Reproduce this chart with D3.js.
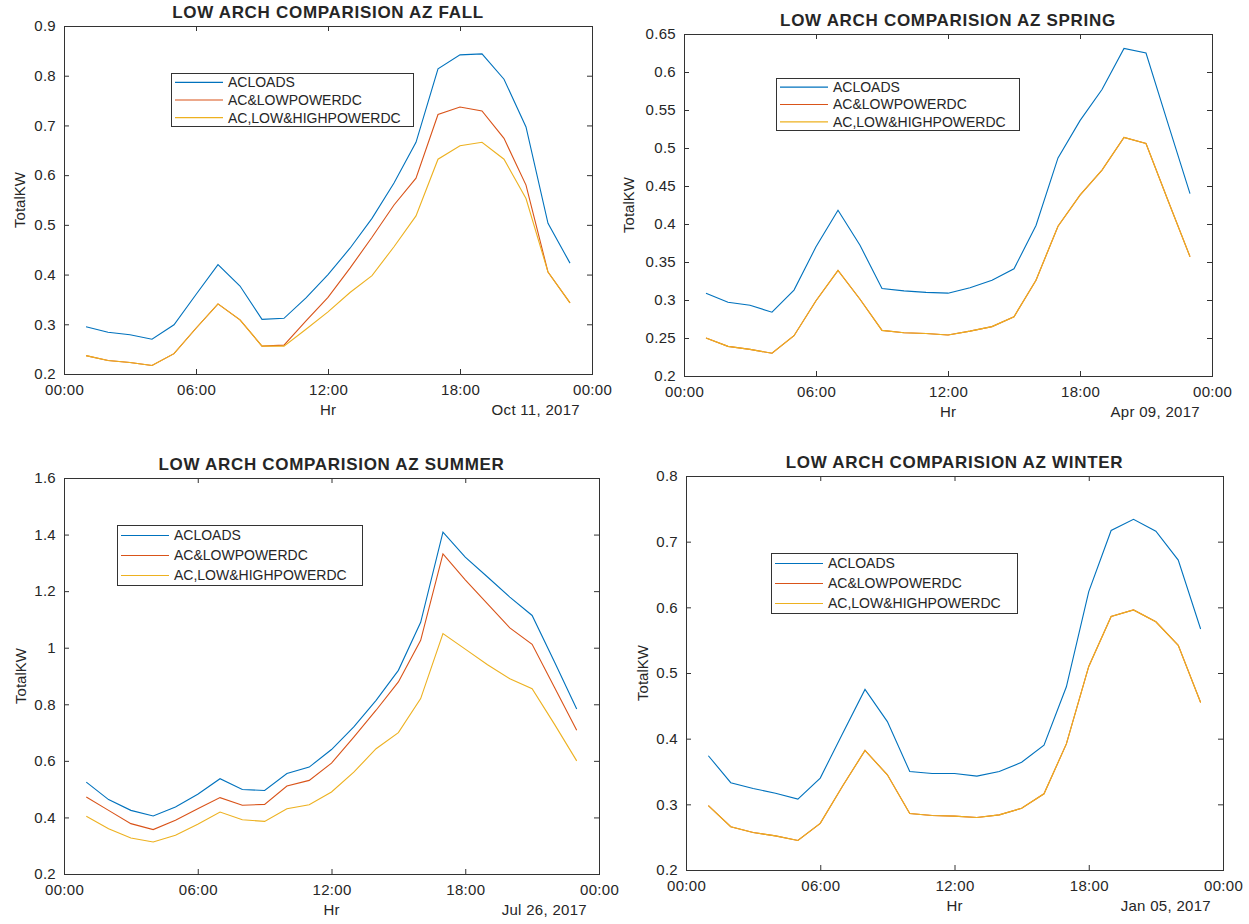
<!DOCTYPE html>
<html>
<head>
<meta charset="utf-8">
<script src="https://cdn.jsdelivr.net/npm/d3@7"></script>
<style>
  body { margin: 0; background: #fff; }
  text { font-family: "Liberation Sans", Arial, Helvetica, sans-serif; fill: #262626; }
</style>
</head>
<body>
<div id="chart"></div>
<script>
// hour of day of every sample (01:00 .. 23:00)
var hours = [1, 2, 3, 4, 5, 6, 7, 8, 9, 10, 11, 12, 13, 14, 15, 16, 17, 18, 19, 20, 21, 22, 23];

var seriesNames = ["ACLOADS", "AC&LOWPOWERDC", "AC,LOW&HIGHPOWERDC"];
var seriesColors = ["#0072bd", "#d95319", "#edb120"];

var xTickHours = [0, 6, 12, 18, 24];
var xTickLabels = ["00:00", "06:00", "12:00", "18:00", "00:00"];

// FALL - Oct 11, 2017
var fallAcLoads = [0.295, 0.284, 0.279, 0.270, 0.299, 0.360, 0.420, 0.377, 0.310, 0.312, 0.353, 0.400,
    0.453, 0.513, 0.584, 0.666, 0.814, 0.842, 0.844, 0.793, 0.697, 0.503, 0.423];
var fallAcLowDc = [0.237, 0.227, 0.223, 0.217, 0.241, 0.292, 0.341, 0.309, 0.256, 0.258, 0.307, 0.354,
    0.413, 0.475, 0.540, 0.594, 0.722, 0.737, 0.729, 0.674, 0.580, 0.405, 0.343];
var fallAcLowHighDc = [0.237, 0.227, 0.223, 0.217, 0.241, 0.292, 0.341, 0.309, 0.256, 0.256, 0.290, 0.325,
    0.364, 0.398, 0.456, 0.518, 0.632, 0.659, 0.666, 0.632, 0.553, 0.405, 0.343];
var fallTicks = [0.2, 0.3, 0.4, 0.5, 0.6, 0.7, 0.8, 0.9];

// SPRING - Apr 09, 2017
var springAcLoads = [0.309, 0.297, 0.293, 0.284, 0.313, 0.370, 0.418, 0.372, 0.315, 0.312, 0.310, 0.309,
    0.316, 0.326, 0.341, 0.398, 0.487, 0.536, 0.577, 0.631, 0.625, 0.532, 0.440];
var springAcLowDc = [0.250, 0.239, 0.235, 0.230, 0.253, 0.299, 0.339, 0.301, 0.260, 0.257, 0.256, 0.254,
    0.259, 0.265, 0.278, 0.326, 0.397, 0.438, 0.471, 0.514, 0.506, 0.431, 0.357];
var springAcLowHighDc = [0.250, 0.239, 0.235, 0.230, 0.253, 0.299, 0.339, 0.301, 0.260, 0.257, 0.256, 0.254,
    0.259, 0.265, 0.278, 0.326, 0.397, 0.438, 0.471, 0.514, 0.506, 0.431, 0.357];
var springTicks = [0.2, 0.25, 0.3, 0.35, 0.4, 0.45, 0.5, 0.55, 0.6, 0.65];

// SUMMER - Jul 26, 2017
var summerAcLoads = [0.525, 0.463, 0.425, 0.405, 0.437, 0.482, 0.537, 0.499, 0.495, 0.555, 0.578, 0.640,
    0.720, 0.814, 0.920, 1.090, 1.409, 1.320, 1.250, 1.179, 1.114, 0.950, 0.783];
var summerAcLowDc = [0.472, 0.425, 0.378, 0.357, 0.390, 0.431, 0.470, 0.443, 0.446, 0.511, 0.531, 0.592,
    0.684, 0.779, 0.879, 1.026, 1.332, 1.240, 1.155, 1.070, 1.012, 0.860, 0.708];
var summerAcLowHighDc = [0.404, 0.360, 0.327, 0.313, 0.337, 0.376, 0.419, 0.392, 0.386, 0.431, 0.445, 0.490,
    0.560, 0.643, 0.700, 0.820, 1.050, 0.995, 0.940, 0.890, 0.855, 0.730, 0.600];
var summerTicks = [0.2, 0.4, 0.6, 0.8, 1, 1.2, 1.4, 1.6];

// WINTER - Jan 05, 2017
var winterAcLoads = [0.374, 0.333, 0.324, 0.317, 0.308, 0.340, 0.408, 0.475, 0.426, 0.350, 0.347, 0.347,
    0.343, 0.350, 0.364, 0.390, 0.479, 0.624, 0.717, 0.734, 0.716, 0.672, 0.567];
var winterAcLowDc = [0.298, 0.266, 0.257, 0.252, 0.245, 0.271, 0.328, 0.382, 0.345, 0.286, 0.283, 0.282,
    0.280, 0.284, 0.294, 0.316, 0.392, 0.510, 0.586, 0.596, 0.578, 0.542, 0.455];
var winterAcLowHighDc = [0.298, 0.266, 0.257, 0.252, 0.245, 0.271, 0.328, 0.382, 0.345, 0.286, 0.283, 0.282,
    0.280, 0.284, 0.294, 0.316, 0.392, 0.510, 0.586, 0.596, 0.578, 0.542, 0.455];
var winterTicks = [0.2, 0.3, 0.4, 0.5, 0.6, 0.7, 0.8];

// Each panel was its own figure, so the boxes don't line up exactly.
var panels = [
    { title: "LOW ARCH COMPARISION AZ FALL", date: "Oct 11, 2017", ticks: fallTicks,
      series: [fallAcLoads, fallAcLowDc, fallAcLowHighDc],
      box: { x0: 64, x1: 592, y0: 26, y1: 374 }, ylabOff: 39,
      legend: { x: 171, y: 73, w: 242, h: 53 } },
    { title: "LOW ARCH COMPARISION AZ SPRING", date: "Apr 09, 2017", ticks: springTicks,
      series: [springAcLoads, springAcLowDc, springAcLowHighDc],
      box: { x0: 684, x1: 1212, y0: 34, y1: 376 }, ylabOff: 50,
      legend: { x: 776, y: 78, w: 243, h: 52 } },
    { title: "LOW ARCH COMPARISION AZ SUMMER", date: "Jul 26, 2017", ticks: summerTicks,
      series: [summerAcLoads, summerAcLowDc, summerAcLowHighDc],
      box: { x0: 64, x1: 599, y0: 478, y1: 874 }, ylabOff: 38,
      legend: { x: 117, y: 525, w: 245, h: 60 } },
    { title: "LOW ARCH COMPARISION AZ WINTER", date: "Jan 05, 2017", ticks: winterTicks,
      series: [winterAcLoads, winterAcLowDc, winterAcLowHighDc],
      box: { x0: 686, x1: 1223, y0: 476, y1: 870 }, ylabOff: 38,
      legend: { x: 771, y: 553, w: 246, h: 60 } }
];

var svg = d3.select("#chart")
    .append("svg")
    .attr("width", 1249)
    .attr("height", 924);

var fmtY = function(d) { return String(+d.toFixed(2)); };

panels.forEach(function(p) {
    var b = p.box;
    var x = d3.scaleLinear().domain([0, 24]).range([b.x0, b.x1]);
    var y = d3.scaleLinear().domain([p.ticks[0], p.ticks[p.ticks.length - 1]]).range([b.y1, b.y0]);

    var g = svg.append("g");

    // data lines first, yellow last so it hides red where they coincide
    var line = d3.line()
        .x(function(d, i) { return x(hours[i]); })
        .y(function(d) { return y(d); });

    p.series.forEach(function(s, k) {
        g.append("path")
            .datum(s)
            .attr("d", line)
            .attr("fill", "none")
            .attr("stroke", seriesColors[k])
            .attr("stroke-width", 1.1);
    });

    // axes - ticks point inwards on all four sides
    var axes = [
        { a: d3.axisBottom(x).tickValues(xTickHours).tickFormat(function(d, i) { return xTickLabels[i]; }).tickPadding(10), t: "translate(0," + b.y1 + ")" },
        { a: d3.axisTop(x).tickValues(xTickHours).tickFormat(""), t: "translate(0," + b.y0 + ")" },
        { a: d3.axisLeft(y).tickValues(p.ticks).tickFormat(fmtY).tickPadding(8), t: "translate(" + b.x0 + ",0)" },
        { a: d3.axisRight(y).tickValues(p.ticks).tickFormat(""), t: "translate(" + b.x1 + ",0)" }
    ];
    axes.forEach(function(ax) {
        var ga = g.append("g")
            .attr("transform", ax.t)
            .call(ax.a.tickSize(-5));
        ga.select(".domain").remove();
        ga.selectAll("line").attr("stroke", "#333");
        ga.selectAll("text")
            .style("font-size", "15px")
            .style("letter-spacing", "0.3px")
            .attr("fill", "#262626");
    });

    g.append("rect")
        .attr("x", b.x0 + 0.5)
        .attr("y", b.y0 + 0.5)
        .attr("width", b.x1 - b.x0)
        .attr("height", b.y1 - b.y0)
        .attr("fill", "none")
        .attr("stroke", "#333")
        .attr("stroke-width", 1);

    // title + labels
    g.append("text")
        .attr("x", (b.x0 + b.x1) / 2)
        .attr("y", b.y0 - 8)
        .attr("text-anchor", "middle")
        .style("font-size", "17px")
        .style("font-weight", "bold")
        .style("letter-spacing", "0.7px")
        .text(p.title);

    g.append("text")
        .attr("x", (b.x0 + b.x1) / 2)
        .attr("y", b.y1 + 41)
        .attr("text-anchor", "middle")
        .style("font-size", "15px")
        .text("Hr");

    g.append("text")
        .attr("x", b.x1 - 12)
        .attr("y", b.y1 + 41)
        .attr("text-anchor", "end")
        .style("font-size", "15px")
        .style("letter-spacing", "0.3px")
        .text(p.date);

    g.append("text")
        .attr("transform", "translate(" + (b.x0 - p.ylabOff) + "," + (b.y0 + b.y1) / 2 + ") rotate(-90)")
        .attr("text-anchor", "middle")
        .style("font-size", "15px")
        .text("TotalKW");

    // legend box
    var L = p.legend;
    var lg = g.append("g").attr("transform", "translate(" + L.x + "," + L.y + ")");
    lg.append("rect")
        .attr("x", 0.5).attr("y", 0.5)
        .attr("width", L.w).attr("height", L.h)
        .attr("fill", "#fff")
        .attr("stroke", "#333");
    seriesNames.forEach(function(name, k) {
        var ry = L.h * (2 * k + 1) / 6 + 0.5;
        lg.append("line")
            .attr("x1", 4).attr("x2", 52)
            .attr("y1", ry).attr("y2", ry)
            .attr("stroke", seriesColors[k])
            .attr("stroke-width", 1.1);
        lg.append("text")
            .attr("x", 57)
            .attr("y", ry)
            .attr("dy", "0.35em")
            .style("font-size", "14px")
            .text(name);
    });
});
</script>
</body>
</html>
